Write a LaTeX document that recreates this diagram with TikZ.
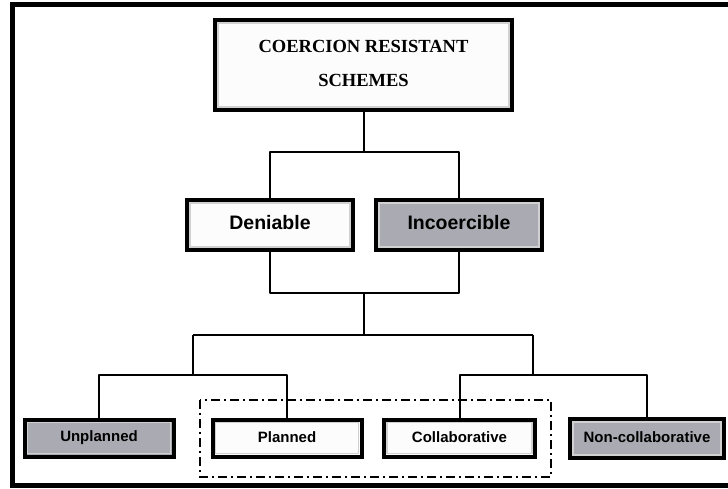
\documentclass[tikz,border=0pt]{standalone}
\usepackage{fontspec}
\setmainfont{Liberation Sans}
\newfontfamily\titlefont{Liberation Serif}
\definecolor{boxgray}{RGB}{170,170,178}
\definecolor{boxwhite}{RGB}{252,252,253}
\tikzset{
  box/.style={draw=black, line width=4pt, rectangle, inner sep=0pt, align=center, font=\bfseries},
  graybox/.style={box, fill=boxgray},
  whitebox/.style={box, fill=boxwhite},
  conn/.style={draw=black, line width=2pt, line join=round},
  bevel/.style={draw=black!18, line width=1.4pt},
  dashbox/.style={draw=black, line width=2.2pt, dash pattern=on 9pt off 4pt on 2pt off 4pt}
}
\begin{document}
\begin{tikzpicture}[x=1pt,y=-1pt]
\useasboundingbox (0,0) rectangle (728,488);
\clip (0,0) rectangle (728,488);
\fill[white] (0,0) rectangle (728,488);
% outer frame (right side cut off)
\draw[line width=5pt] (12.5,4.5) rectangle (745,485.5);

% nodes
\node[whitebox, minimum width=297pt, minimum height=90pt, font=\titlefont\bfseries\fontsize{18.5}{34}\selectfont] (title) at (363.5,65) {\raisebox{3pt}{COERCION RESISTANT}\\\raisebox{3pt}{SCHEMES}};
\node[whitebox, minimum width=166pt, minimum height=50pt, font=\bfseries\fontsize{19.5}{22}\selectfont] (den) at (270,225) {\raisebox{5pt}{Deniable}};
\node[graybox, minimum width=166pt, minimum height=50pt, font=\bfseries\fontsize{19.5}{22}\selectfont] (inc) at (459,225) {\raisebox{5pt}{Incoercible}};
\node[graybox, minimum width=149pt, minimum height=37pt, font=\bfseries\fontsize{15}{18}\selectfont] (unp) at (99,438) {\raisebox{2pt}{Unplanned}};
\node[whitebox, minimum width=149pt, minimum height=37pt, font=\bfseries\fontsize{15}{18}\selectfont] (pla) at (287,438) {\raisebox{2pt}{Planned}};
\node[whitebox, minimum width=151pt, minimum height=37pt, font=\bfseries\fontsize{15}{18}\selectfont] (col) at (459.5,438) {\raisebox{2pt}{Collaborative}};
\node[graybox, minimum width=154pt, minimum height=39pt, font=\bfseries\fontsize{15}{18}\selectfont] (nco) at (647,438.5) {\raisebox{2pt}{Non-collaborative}};

% bevels
\foreach \n in {title,den,inc,unp,pla,col,nco}{
  \draw[bevel] ([shift={(5pt,-5pt)}]\n.north west) rectangle ([shift={(-5pt,5pt)}]\n.south east);
}

% junction coordinates
\coordinate (j1) at (363.5,152);
\coordinate (j2) at (363.5,293);
\coordinate (j3) at (363.5,335);
\coordinate (jl) at (193,335);
\coordinate (jr) at (533,335);
\coordinate (j4) at (193,375);
\coordinate (j5) at (533,375);

% connectors
\draw[conn] (title.south) -- (j1);
\draw[conn] (den.north) |- (j1) -| (inc.north);
\draw[conn] (den.south) |- (j2) -| (inc.south);
\draw[conn] (j2) -- (j3);
\draw[conn] (jl) -- (jr);
\draw[conn] (jl) -- (j4);
\draw[conn] (jr) -- (j5);
\draw[conn] (unp.north) |- (j4) -| (pla.north);
\draw[conn] (col.north) |- (j5) -| (nco.north);

% dash-dot group box
\draw[dashbox] (200,400) rectangle (551,477);
\end{tikzpicture}
\end{document}
